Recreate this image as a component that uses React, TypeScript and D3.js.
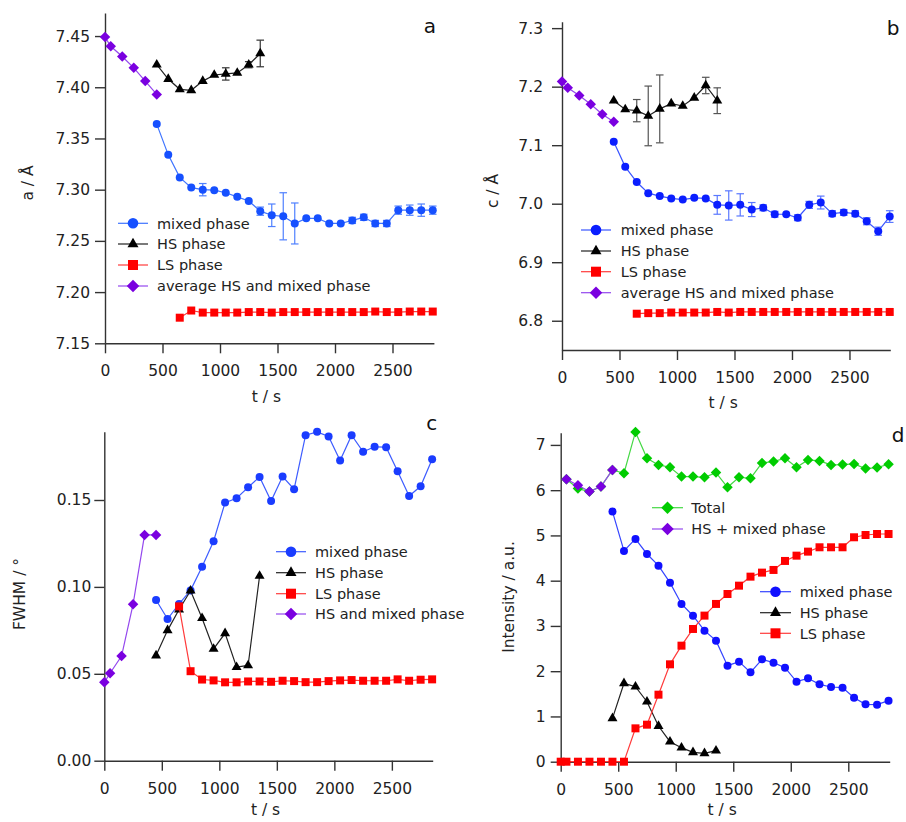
import React, { useEffect, useRef } from "react";
import * as d3 from "d3";

// ---------- time axes ----------
const tAvg = [0, 50, 150, 250, 350, 450];
const tMix = [450, 550, 650, 750, 850, 950, 1050, 1150, 1250, 1350, 1450, 1550, 1650, 1750, 1850, 1950, 2050, 2150, 2250, 2350, 2450, 2550, 2650, 2750, 2850];
const tHS = [450, 550, 650, 750, 850, 950, 1050, 1150, 1250, 1350];
const tLS = [650, 750, 850, 950, 1050, 1150, 1250, 1350, 1450, 1550, 1650, 1750, 1850, 1950, 2050, 2150, 2250, 2350, 2450, 2550, 2650, 2750, 2850];
const tHSmixD = [50, 150, 250, 350, 450];
const tTotalD = [50, 150, 250, 350, 450, 550, 650, 750, 850, 950, 1050, 1150, 1250, 1350, 1450, 1550, 1650, 1750, 1850, 1950, 2050, 2150, 2250, 2350, 2450, 2550, 2650, 2750, 2850];
const tLSD = [0, 50, 150, 250, 350, 450, 550, 650, 750, 850, 950, 1050, 1150, 1250, 1350, 1450, 1550, 1650, 1750, 1850, 1950, 2050, 2150, 2250, 2350, 2450, 2550, 2650, 2750, 2850];

const xTicks = [0, 500, 1000, 1500, 2000, 2500];

// ---------- panel a: a / Å ----------
const aTicks = [7.15, 7.2, 7.25, 7.3, 7.35, 7.4, 7.45];
const avgA = [7.449, 7.440, 7.430, 7.419, 7.406, 7.393];
const hsA = [7.422, 7.408, 7.398, 7.397, 7.406, 7.412, 7.413, 7.414, 7.422, 7.433];
const hsAErr = [0.001, 0.001, 0.001, 0.002, 0.002, 0.002, 0.006, 0.002, 0.003, 0.013];
const mixA = [7.364, 7.334, 7.312, 7.302, 7.300, 7.2995, 7.297, 7.293, 7.289, 7.279, 7.275, 7.274, 7.267, 7.272, 7.272, 7.267, 7.267, 7.270, 7.273, 7.267, 7.267, 7.280, 7.280, 7.280, 7.280];
const mixAErr = [0.001, 0.001, 0.001, 0.001, 0.006, 0.002, 0.002, 0.002, 0.002, 0.004, 0.011, 0.023, 0.020, 0.002, 0.002, 0.002, 0.002, 0.003, 0.003, 0.003, 0.003, 0.004, 0.005, 0.006, 0.004];
const lsA = [7.175, 7.182, 7.180, 7.180, 7.180, 7.180, 7.1805, 7.1805, 7.180, 7.1805, 7.1805, 7.1805, 7.1805, 7.1805, 7.1805, 7.1805, 7.1805, 7.181, 7.1805, 7.1805, 7.181, 7.181, 7.181];

// ---------- panel b: c / Å ----------
const bTicks = [6.8, 6.9, 7.0, 7.1, 7.2, 7.3];
const avgB = [7.209, 7.198, 7.185, 7.170, 7.153, 7.140];
const hsB = [7.176, 7.161, 7.159, 7.150, 7.162, 7.171, 7.167, 7.181, 7.202, 7.176];
const hsBErr = [0.003, 0.002, 0.019, 0.051, 0.058, 0.003, 0.004, 0.004, 0.014, 0.022];
const mixB = [7.106, 7.063, 7.037, 7.018, 7.013, 7.009, 7.007, 7.010, 7.009, 6.998, 6.997, 6.998, 6.990, 6.993, 6.982, 6.982, 6.976, 6.998, 7.002, 6.983, 6.985, 6.983, 6.970, 6.953, 6.978];
const mixBErr = [0.002, 0.002, 0.002, 0.002, 0.003, 0.003, 0.003, 0.004, 0.004, 0.016, 0.025, 0.019, 0.012, 0.005, 0.005, 0.004, 0.005, 0.006, 0.011, 0.005, 0.005, 0.005, 0.006, 0.007, 0.010];
const lsB = [6.812, 6.813, 6.813, 6.814, 6.814, 6.814, 6.814, 6.815, 6.814, 6.815, 6.815, 6.815, 6.815, 6.815, 6.815, 6.815, 6.815, 6.815, 6.815, 6.815, 6.815, 6.815, 6.815];

// ---------- panel c: FWHM / ° ----------
const cTicks = [0, 0.05, 0.1, 0.15];
const avgC = [0.0451, 0.0503, 0.0602, 0.0900, 0.1299, 0.1299];
const hsC = [0.0605, 0.0750, 0.0870, 0.0978, 0.0820, 0.0643, 0.0733, 0.0538, 0.0548, 0.1063];
const mixC = [0.0925, 0.0815, 0.0902, 0.0980, 0.1116, 0.1263, 0.1485, 0.1510, 0.1573, 0.1633, 0.1494, 0.1635, 0.1562, 0.1873, 0.1892, 0.1865, 0.1727, 0.1873, 0.1777, 0.1806, 0.1804, 0.1665, 0.1523, 0.1579, 0.1735];
const lsC = [0.0888, 0.0515, 0.0467, 0.0462, 0.0451, 0.0451, 0.0456, 0.0456, 0.0454, 0.0460, 0.0458, 0.0452, 0.0452, 0.0458, 0.0462, 0.0464, 0.0460, 0.0460, 0.0460, 0.0468, 0.0460, 0.0466, 0.0468];

// ---------- panel d: Intensity / a.u. ----------
const dTicks = [0, 1, 2, 3, 4, 5, 6, 7];
const hsMixD = [6.24, 6.108, 5.968, 6.079, 6.447];
const totalD = [6.24, 6.035, 5.968, 6.079, 6.447, 6.374, 7.287, 6.705, 6.558, 6.506, 6.30, 6.30, 6.285, 6.388, 6.064, 6.285, 6.263, 6.602, 6.632, 6.705, 6.506, 6.668, 6.646, 6.558, 6.565, 6.58, 6.477, 6.499, 6.573];
const mixD = [5.526, 4.657, 4.922, 4.590, 4.332, 3.957, 3.486, 3.225, 2.896, 2.675, 2.122, 2.211, 1.975, 2.262, 2.189, 2.078, 1.769, 1.842, 1.71, 1.651, 1.636, 1.415, 1.267, 1.26, 1.349];
const lsD = [0, 0, 0, 0, 0, 0, 0, 0.737, 0.818, 1.481, 2.152, 2.564, 2.933, 3.228, 3.486, 3.706, 3.89, 4.089, 4.178, 4.237, 4.436, 4.553, 4.642, 4.738, 4.738, 4.738, 4.959, 5.01, 5.032, 5.032];
const hsD = [0.958, 1.732, 1.658, 1.326, 0.789, 0.442, 0.31, 0.206, 0.184, 0.243];

// legend labels
const legendABC = ["mixed phase", "HS phase", "LS phase", "average HS and mixed phase"];
const legendC4 = "HS and mixed phase";
const legendD1 = ["Total", "HS + mixed phase"];
const legendD2 = ["mixed phase", "HS phase", "LS phase"];

const FONT = "'DejaVu Sans', 'Open Sans', sans-serif";
const TXT = "#222";
const AX = "#333";

type Kind = "circle" | "square" | "triangle" | "diamond";

function markerPath(kind: Kind, s: number): string {
  if (kind === "circle") return d3.symbol(d3.symbolCircle, Math.PI * s * s)()!;
  if (kind === "square") return d3.symbol(d3.symbolSquare, s * s)()!;
  if (kind === "triangle") return d3.symbol(d3.symbolTriangle, (Math.sqrt(3) / 4) * s * s)()!;
  const h = s / 2;
  return `M0,${-h}L${h},0L0,${h}L${-h},0Z`;
}

const SIZES: Record<Kind, number> = { circle: 4, square: 8, triangle: 10, diamond: 10.5 };
const LSIZES: Record<Kind, number> = { circle: 5.3, square: 10, triangle: 11, diamond: 12.5 };

interface SeriesOpt {
  kind: Kind;
  fill: string;
  line: string;
  err?: number[];
  errColor?: string;
}

export default function App() {
  const ref = useRef<SVGSVGElement>(null);

  useEffect(() => {
    const svg = d3.select(ref.current!);
    svg.selectAll("*").remove();
    svg.append("rect").attr("width", 906).attr("height", 822).attr("fill", "#fff");

    function panel(cfg: {
      x0: number; x1: number; xMax: number; yb: number; yt: number; yMin: number; yMax: number;
      ticks: number[]; fmt: string; yPad: number; ylab: string; ylabX: number; ylabY: number;
      tlabY: number; label: string; labelX: number; labelY: number;
    }) {
      const g = svg.append("g");
      const x = d3.scaleLinear().domain([0, cfg.xMax]).range([cfg.x0, cfg.x1]);
      const y = d3.scaleLinear().domain([cfg.yMin, cfg.yMax]).range([cfg.yb, cfg.yt]);

      const xa = g.append("g").attr("transform", `translate(0,${cfg.yb})`)
        .call(d3.axisBottom(x).tickValues(xTicks).tickSize(10).tickSizeOuter(0).tickPadding(12).tickFormat(d3.format("d")));
      const ya = g.append("g").attr("transform", `translate(${cfg.x0},0)`)
        .call(d3.axisLeft(y).tickValues(cfg.ticks).tickSize(10).tickSizeOuter(0).tickPadding(cfg.yPad).tickFormat(d3.format(cfg.fmt)));
      [xa, ya].forEach((a) => {
        a.attr("font-family", FONT).attr("font-size", 15.5);
        a.selectAll("path,line").attr("stroke", AX).attr("stroke-width", 1.4);
        a.selectAll("text").attr("fill", TXT);
      });

      g.append("text").attr("x", (cfg.x0 + cfg.x1) / 2 - 3).attr("y", cfg.tlabY).attr("text-anchor", "middle")
        .attr("font-family", FONT).attr("font-size", 15.5).attr("fill", TXT).text("t / s");
      g.append("text").attr("transform", `translate(${cfg.ylabX},${cfg.ylabY}) rotate(-90)`).attr("dy", "0.35em")
        .attr("text-anchor", "middle").attr("font-family", FONT).attr("font-size", 15.5).attr("fill", TXT).text(cfg.ylab);
      g.append("text").attr("x", cfg.labelX).attr("y", cfg.labelY).attr("text-anchor", "middle")
        .attr("font-family", FONT).attr("font-size", 20).attr("fill", "#111").text(cfg.label);

      const plot = g.append("g");

      function series(ts: number[], vs: number[], o: SeriesOpt) {
        const pts = ts.map((t, i) => [t, vs[i]] as [number, number]);
        const sg = plot.append("g");
        sg.append("path").attr("d", d3.line<[number, number]>().x((d) => x(d[0])).y((d) => y(d[1]))(pts)!)
          .attr("fill", "none").attr("stroke", o.line).attr("stroke-width", 1.2);
        if (o.err) {
          const eg = sg.append("g").attr("stroke", o.errColor || o.line).attr("stroke-width", 1.2);
          pts.forEach((p, i) => {
            const e = o.err![i];
            const px = x(p[0]);
            const ylo = y(p[1] - e), yhi = y(p[1] + e);
            if (Math.abs(ylo - yhi) < 5) return;
            eg.append("line").attr("x1", px).attr("x2", px).attr("y1", ylo).attr("y2", yhi);
            eg.append("line").attr("x1", px - 3.8).attr("x2", px + 3.8).attr("y1", ylo).attr("y2", ylo);
            eg.append("line").attr("x1", px - 3.8).attr("x2", px + 3.8).attr("y1", yhi).attr("y2", yhi);
          });
        }
        const mp = markerPath(o.kind, SIZES[o.kind]);
        sg.selectAll("path.m").data(pts).enter().append("path").attr("class", "m")
          .attr("d", mp).attr("transform", (d) => `translate(${x(d[0])},${y(d[1])})`).attr("fill", o.fill);
      }

      function legend(items: { label: string; kind: Kind; fill: string; line: string }[], lx0: number, lx1: number, tx: number, ys: number[]) {
        const lg = g.append("g");
        items.forEach((it, i) => {
          const yy = ys[i];
          lg.append("line").attr("x1", lx0).attr("x2", lx1).attr("y1", yy).attr("y2", yy).attr("stroke", it.line).attr("stroke-width", 1.2);
          lg.append("path").attr("d", markerPath(it.kind, LSIZES[it.kind])).attr("transform", `translate(${(lx0 + lx1) / 2},${yy})`).attr("fill", it.fill);
          lg.append("text").attr("x", tx).attr("y", yy).attr("dy", "0.36em").attr("font-family", FONT).attr("font-size", 14.5).attr("fill", TXT).text(it.label);
        });
      }

      return { series, legend };
    }

    const PURPLE = "#7a00e0", PURPLE_L = "#9448ee";
    const RED = "#ff0000", RED_L = "#ff3b3b";
    const BLACK = "#000", BLACK_L = "#222";
    const GREEN = "#00cc00", GREEN_L = "#44d844";

    // ---- panel a ----
    const pa = panel({ x0: 105, x1: 433.9, xMax: 2860, yb: 343.3, yt: 13, yMin: 7.15, yMax: 7.4725, ticks: aTicks, fmt: ".2f", yPad: 5,
      ylab: "a / Å", ylabX: 28, ylabY: 183, tlabY: 402, label: "a", labelX: 430, labelY: 33 });
    const BLUE_A = "#1650ff", BLUE_AL = "#3f74ff";
    pa.series(tMix, mixA, { kind: "circle", fill: BLUE_A, line: BLUE_AL, err: mixAErr, errColor: "#4f80ff" });
    pa.series(tHS, hsA, { kind: "triangle", fill: BLACK, line: BLACK_L, err: hsAErr, errColor: "#333" });
    pa.series(tLS, lsA, { kind: "square", fill: RED, line: RED_L });
    pa.series(tAvg, avgA, { kind: "diamond", fill: PURPLE, line: PURPLE_L });
    pa.legend([
      { label: legendABC[0], kind: "circle", fill: BLUE_A, line: BLUE_AL },
      { label: legendABC[1], kind: "triangle", fill: BLACK, line: BLACK_L },
      { label: legendABC[2], kind: "square", fill: RED, line: RED_L },
      { label: legendABC[3], kind: "diamond", fill: PURPLE, line: PURPLE_L },
    ], 118, 148, 157, [223.3, 244, 265, 286]);

    // ---- panel b ----
    const pb = panel({ x0: 562, x1: 890.3, xMax: 2855, yb: 350, yt: 21.7, yMin: 6.75, yMax: 7.311, ticks: bTicks, fmt: ".1f", yPad: 9,
      ylab: "c / Å", ylabX: 493, ylabY: 191, tlabY: 408, label: "b", labelX: 893, labelY: 35 });
    const BLUE_B = "#0a1eff", BLUE_BL = "#3a55ff";
    pb.series(tMix, mixB, { kind: "circle", fill: BLUE_B, line: BLUE_BL, err: mixBErr, errColor: "#5a78ff" });
    pb.series(tHS, hsB, { kind: "triangle", fill: BLACK, line: BLACK_L, err: hsBErr, errColor: "#555" });
    pb.series(tLS, lsB, { kind: "square", fill: RED, line: RED_L });
    pb.series(tAvg, avgB, { kind: "diamond", fill: PURPLE, line: PURPLE_L });
    pb.legend([
      { label: legendABC[0], kind: "circle", fill: BLUE_B, line: BLUE_BL },
      { label: legendABC[1], kind: "triangle", fill: BLACK, line: BLACK_L },
      { label: legendABC[2], kind: "square", fill: RED, line: RED_L },
      { label: legendABC[3], kind: "diamond", fill: PURPLE, line: PURPLE_L },
    ], 581, 611, 620.7, [230, 251, 271.7, 292.7]);

    // ---- panel c ----
    const pc = panel({ x0: 104.3, x1: 432.7, xMax: 2855, yb: 760.7, yt: 431.7, yMin: 0, yMax: 0.1893, ticks: cTicks, fmt: ".2f", yPad: 3,
      ylab: "FWHM / °", ylabX: 19.5, ylabY: 594, tlabY: 815, label: "c", labelX: 431.7, labelY: 430 });
    const BLUE_C = "#1a3cff", BLUE_CL = "#3d5cff";
    pc.series(tMix, mixC, { kind: "circle", fill: BLUE_C, line: BLUE_CL });
    pc.series(tHS, hsC, { kind: "triangle", fill: BLACK, line: BLACK_L });
    pc.series(tLS, lsC, { kind: "square", fill: RED, line: RED_L });
    pc.series(tAvg, avgC, { kind: "diamond", fill: PURPLE, line: PURPLE_L });
    pc.legend([
      { label: legendABC[0], kind: "circle", fill: BLUE_C, line: BLUE_CL },
      { label: legendABC[1], kind: "triangle", fill: BLACK, line: BLACK_L },
      { label: legendABC[2], kind: "square", fill: RED, line: RED_L },
      { label: legendC4, kind: "diamond", fill: PURPLE, line: PURPLE_L },
    ], 276, 306, 315, [551.7, 572.7, 593.7, 614]);

    // ---- panel d ----
    const pd = panel({ x0: 560.7, x1: 889.7, xMax: 2860, yb: 761.7, yt: 432.7, yMin: 0, yMax: 7.27, ticks: dTicks, fmt: "d", yPad: 5,
      ylab: "Intensity / a.u.", ylabX: 509, ylabY: 597, tlabY: 815, label: "d", labelX: 898, labelY: 442 });
    const BLUE_D = "#1010ff", BLUE_DL = "#3545ff";
    pd.series(tTotalD, totalD, { kind: "diamond", fill: GREEN, line: GREEN_L });
    pd.series(tHSmixD, hsMixD, { kind: "diamond", fill: PURPLE, line: PURPLE_L });
    pd.series(tMix, mixD, { kind: "circle", fill: BLUE_D, line: BLUE_DL });
    pd.series(tHS, hsD, { kind: "triangle", fill: BLACK, line: BLACK_L });
    pd.series(tLSD, lsD, { kind: "square", fill: RED, line: RED_L });
    pd.legend([
      { label: legendD1[0], kind: "diamond", fill: GREEN, line: GREEN_L },
      { label: legendD1[1], kind: "diamond", fill: PURPLE, line: PURPLE_L },
    ], 652, 683, 691.3, [507.7, 529]);
    pd.legend([
      { label: legendD2[0], kind: "circle", fill: BLUE_D, line: BLUE_DL },
      { label: legendD2[1], kind: "triangle", fill: BLACK, line: BLACK_L },
      { label: legendD2[2], kind: "square", fill: RED, line: RED_L },
    ], 760, 791, 799.7, [591.7, 612.7, 633.3]);
  }, []);

  return <svg ref={ref} width={906} height={822} style={{ position: "absolute", left: 0, top: 0, display: "block" }} />;
}
